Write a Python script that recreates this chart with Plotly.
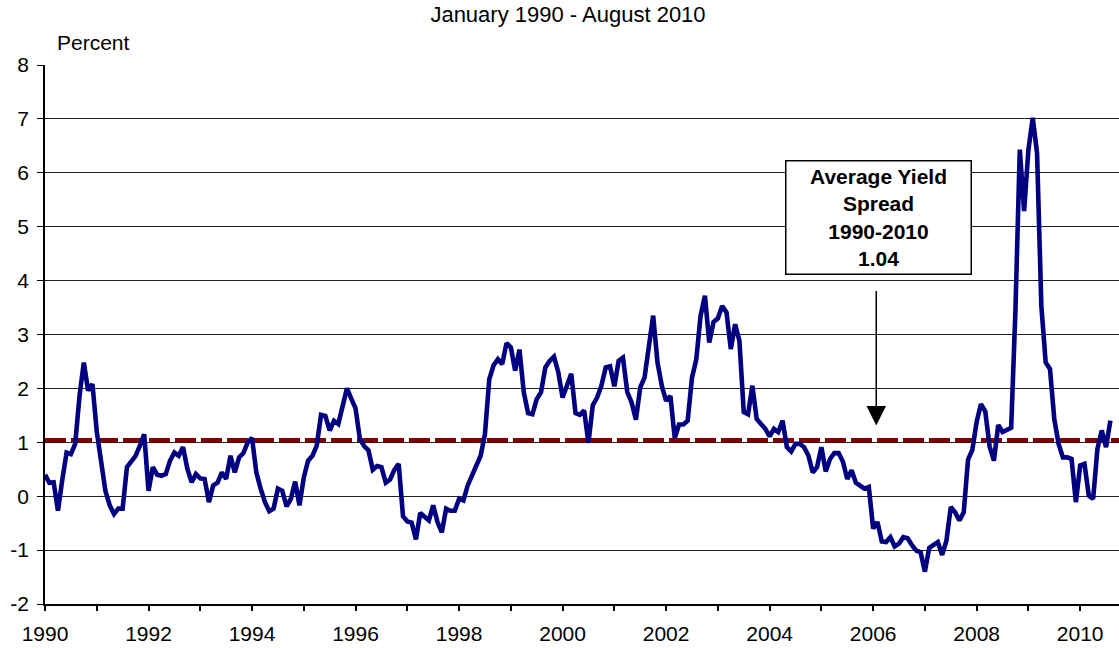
import plotly.graph_objects as go

# Monthly yield spread, January 1990 - August 2010 (percent)
spread = [
    0.40, 0.25, 0.26, -0.27, 0.30, 0.81, 0.78, 0.97, 1.86, 2.48, 1.96, 2.08,   # 1990
    1.20, 0.60, 0.10, -0.17, -0.33, -0.23, -0.23, 0.54, 0.66, 0.75, 0.94, 1.15,  # 1991
    0.10, 0.54, 0.40, 0.38, 0.41, 0.66, 0.81, 0.75, 0.91, 0.51, 0.26, 0.41,   # 1992
    0.33, 0.32, -0.11, 0.20, 0.25, 0.44, 0.32, 0.75, 0.44, 0.72, 0.80, 1.00,  # 1993
    1.08, 0.44, 0.14, -0.11, -0.28, -0.23, 0.14, 0.10, -0.19, -0.05, 0.27, -0.17,  # 1994
    0.35, 0.66, 0.75, 0.94, 1.51, 1.49, 1.22, 1.40, 1.34, 1.68, 2.00, 1.81,   # 1995
    1.63, 1.06, 0.93, 0.85, 0.49, 0.56, 0.54, 0.25, 0.31, 0.49, 0.60, -0.37,  # 1996
    -0.47, -0.49, -0.80, -0.31, -0.39, -0.45, -0.17, -0.48, -0.67, -0.23, -0.27, -0.27,  # 1997
    -0.05, -0.08, 0.20, 0.40, 0.60, 0.75, 1.15, 2.17, 2.43, 2.54, 2.45, 2.84,  # 1998
    2.76, 2.33, 2.72, 1.93, 1.54, 1.52, 1.80, 1.93, 2.39, 2.51, 2.59, 2.30,   # 1999
    1.83, 2.05, 2.27, 1.54, 1.51, 1.59, 0.99, 1.69, 1.83, 2.05, 2.39, 2.41,   # 2000
    2.04, 2.51, 2.57, 1.93, 1.74, 1.42, 2.02, 2.20, 2.79, 3.35, 2.48, 2.05,   # 2001
    1.77, 1.86, 1.08, 1.33, 1.33, 1.40, 2.20, 2.54, 3.35, 3.72, 2.85, 3.23,   # 2002
    3.30, 3.53, 3.41, 2.73, 3.19, 2.88, 1.56, 1.52, 2.05, 1.43, 1.34, 1.25,   # 2003
    1.11, 1.25, 1.19, 1.40, 0.91, 0.83, 0.97, 0.97, 0.91, 0.75, 0.44, 0.54,   # 2004
    0.91, 0.46, 0.69, 0.80, 0.80, 0.64, 0.32, 0.48, 0.25, 0.20, 0.14, 0.17,   # 2005
    -0.60, -0.48, -0.84, -0.85, -0.76, -0.93, -0.88, -0.76, -0.78, -0.91, -1.01, -1.04,  # 2006
    -1.40, -0.96, -0.90, -0.85, -1.09, -0.82, -0.20, -0.30, -0.45, -0.30, 0.68, 0.86,  # 2007
    1.38, 1.71, 1.57, 0.92, 0.66, 1.32, 1.19, 1.23, 1.27, 3.47, 6.43, 5.29,   # 2008
    6.43, 7.02, 6.37, 3.53, 2.48, 2.36, 1.43, 0.97, 0.72, 0.72, 0.69, -0.11,  # 2009
    0.57, 0.60, 0.01, -0.05, 0.88, 1.22, 0.91, 1.40,                          # 2010 (Jan-Aug)
]
start_year = 1990
average_spread = 1.04
year_ticks = list(range(1990, 2011))
year_labels = [str(y) if y % 2 == 0 else "" for y in year_ticks]
y_ticks = list(range(-2, 9))
y_labels = [str(v) for v in y_ticks]
title_text = "January 1990 - August 2010"
box_lines = ["Average Yield", "Spread", "1990-2010", "1.04"]

x_vals = [start_year + i / 12 for i in range(len(spread))]
x_min, x_max = 1990, 2010.75

FONT = "Liberation Sans, Arial, sans-serif"

fig = go.Figure()

fig.add_trace(go.Scatter(
    x=[x_min, x_max], y=[average_spread, average_spread],
    mode="lines", line=dict(color="#800000", width=4.5, dash="21px,5px"),
    hoverinfo="skip", showlegend=False,
))
fig.add_trace(go.Scatter(
    x=x_vals, y=spread, mode="lines",
    line=dict(color="#000080", width=4.6),
    showlegend=False,
))

fig.update_layout(
    width=1119, height=648,
    margin=dict(l=45, r=0, t=65, b=44),
    paper_bgcolor="white", plot_bgcolor="white",
    font=dict(family=FONT, size=21, color="black"),
    title=dict(text=title_text, x=568 / 1119, xanchor="center",
               y=1 - 14 / 648, yanchor="middle", yref="container",
               automargin=False,
               font=dict(family=FONT, size=22, color="black")),
    xaxis=dict(
        range=[x_min, x_max], tickvals=year_ticks, ticktext=year_labels,
        automargin=False,
        showgrid=False, zeroline=False, showline=True, linecolor="black", linewidth=1.5,
        ticks="outside", ticklen=5, tickcolor="black", tickwidth=1.5,
        tickfont=dict(family=FONT, size=21, color="black"),
        ticklabelstandoff=5,
    ),
    yaxis=dict(
        range=[-2, 8], tickvals=y_ticks, ticktext=y_labels, automargin=False,
        showgrid=True, gridcolor="#222222", gridwidth=1,
        zeroline=False, showline=True, linecolor="black", linewidth=1.5,
        ticks="outside", ticklen=6, tickcolor="black", tickwidth=1,
        tickfont=dict(family=FONT, size=21, color="black"),
        ticklabelstandoff=4,
    ),
)

fig.add_annotation(
    text="Percent", xref="paper", yref="paper",
    x=(55 - 45) / 1074, y=1 + 22 / 539, xanchor="left", yanchor="middle",
    showarrow=False, font=dict(family=FONT, size=21, color="black"),
)

fig.add_annotation(
    text="<b>" + "<br>".join(box_lines) + "</b>",
    x=2006.10, y=5.17, xref="x", yref="y",
    showarrow=False, align="center",
    width=180, height=108, borderpad=2,
    bordercolor="black", borderwidth=1.5, bgcolor="white",
    font=dict(family=FONT, size=21, color="black"),
)

fig.add_annotation(
    text="", x=2006.06, y=1.31, xref="x", yref="y",
    ax=0, ay=-136, axref="pixel", ayref="pixel",
    showarrow=True, arrowhead=2, arrowsize=2.6, arrowwidth=1.5, arrowcolor="black",
)

fig.write_html("out.html", config={"displayModeBar": False},
               post_script="document.body.style.margin='0px';")
